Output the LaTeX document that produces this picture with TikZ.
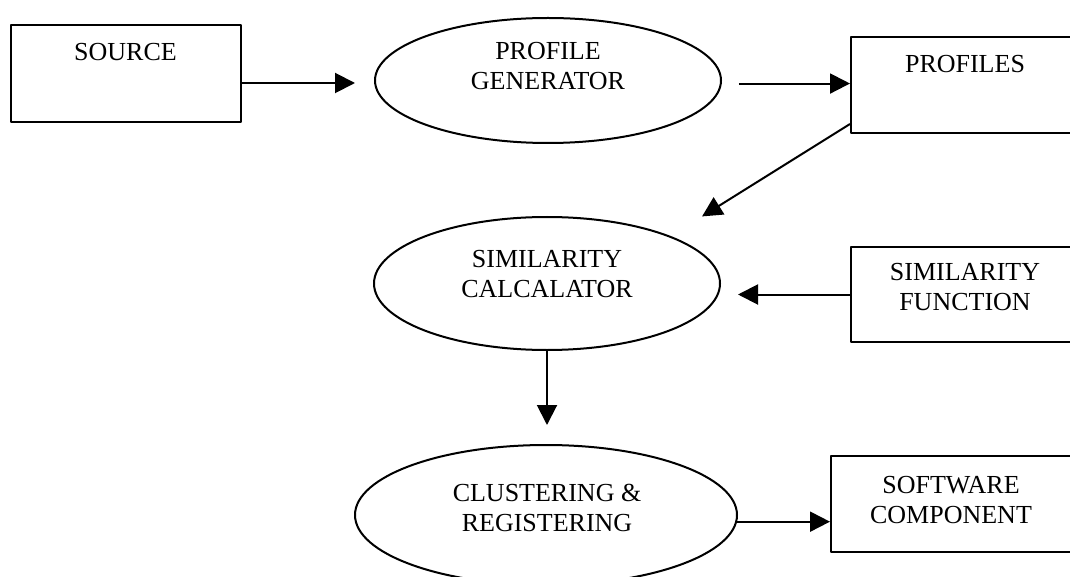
\documentclass[tikz,border=0pt]{standalone}
\usepackage{fontspec}
\setmainfont{Liberation Serif}
\usetikzlibrary{shapes.geometric, arrows.meta}

\begin{document}
\begin{tikzpicture}[x=1pt, y=-1pt, line join=round, line width=2pt, >={Triangle[length=20pt, width=20pt]},
	font=\fontsize{26}{30}\selectfont,
	box/.style={draw, rectangle, minimum width=#1, minimum height=96pt, inner sep=0pt},
	oval/.style={draw, ellipse, inner sep=0pt},
	lbl/.style={align=center, inner sep=0pt}]
	\path[use as bounding box, clip] (0,0) rectangle (1070,577);
	
	% boxes and ovals
	\node[box=230pt, minimum height=97pt] (source) at (126,73.5) {};
	\node[box=239pt] (profiles) at (970.5,85) {};
	\node[box=239pt, minimum height=95pt] (simfunc) at (970.5,294.5) {};
	\node[box=259pt] (software) at (960.5,504) {};
	\node[oval, minimum width=346pt, minimum height=125pt] (pgen) at (548,80.5) {};
	\node[oval, minimum width=346pt, minimum height=133pt] (simcalc) at (547,283.5) {};
	\node[oval, minimum width=382pt, minimum height=140pt] (cluster) at (546,515) {};
	
	% texts
	\foreach \name/\pos/\txt in {source/{125.5,52.5}/SOURCE, pgen/{548,66.5}/{PROFILE\\GENERATOR},
		profiles/{965,64}/PROFILES, simcalc/{547,274.5}/{SIMILARITY\\CALCALATOR},
		simfunc/{965,287}/{SIMILARITY\\FUNCTION}, cluster/{547,507.5}/{CLUSTERING \&\\REGISTERING},
		software/{951,500}/{SOFTWARE\\COMPONENT}}
	\node[lbl] (\name-l) at (\pos) {\txt};
	
	% arrows
	\draw[->, shorten >=19pt] ([yshift=-9.5pt]source.east) -- ([yshift=-9.5pt]source.east -| pgen.west);
	\draw[->, shorten <=17pt] (pgen.-1.5) -- (pgen.-1.5 -| profiles.west);
	\draw[->, shorten >=37pt] ([yshift=10pt]profiles.south west) -- (simcalc.21);
	\draw[->, shorten >=17pt] (simfunc.west) -- (simfunc.west -| simcalc.east);
	\draw[->, shorten >=19pt] (simcalc.south) -- (simcalc.south |- cluster.north);
	\draw[->] (cluster.-2) -- (cluster.-2 -| software.west);
\end{tikzpicture}
\end{document}
